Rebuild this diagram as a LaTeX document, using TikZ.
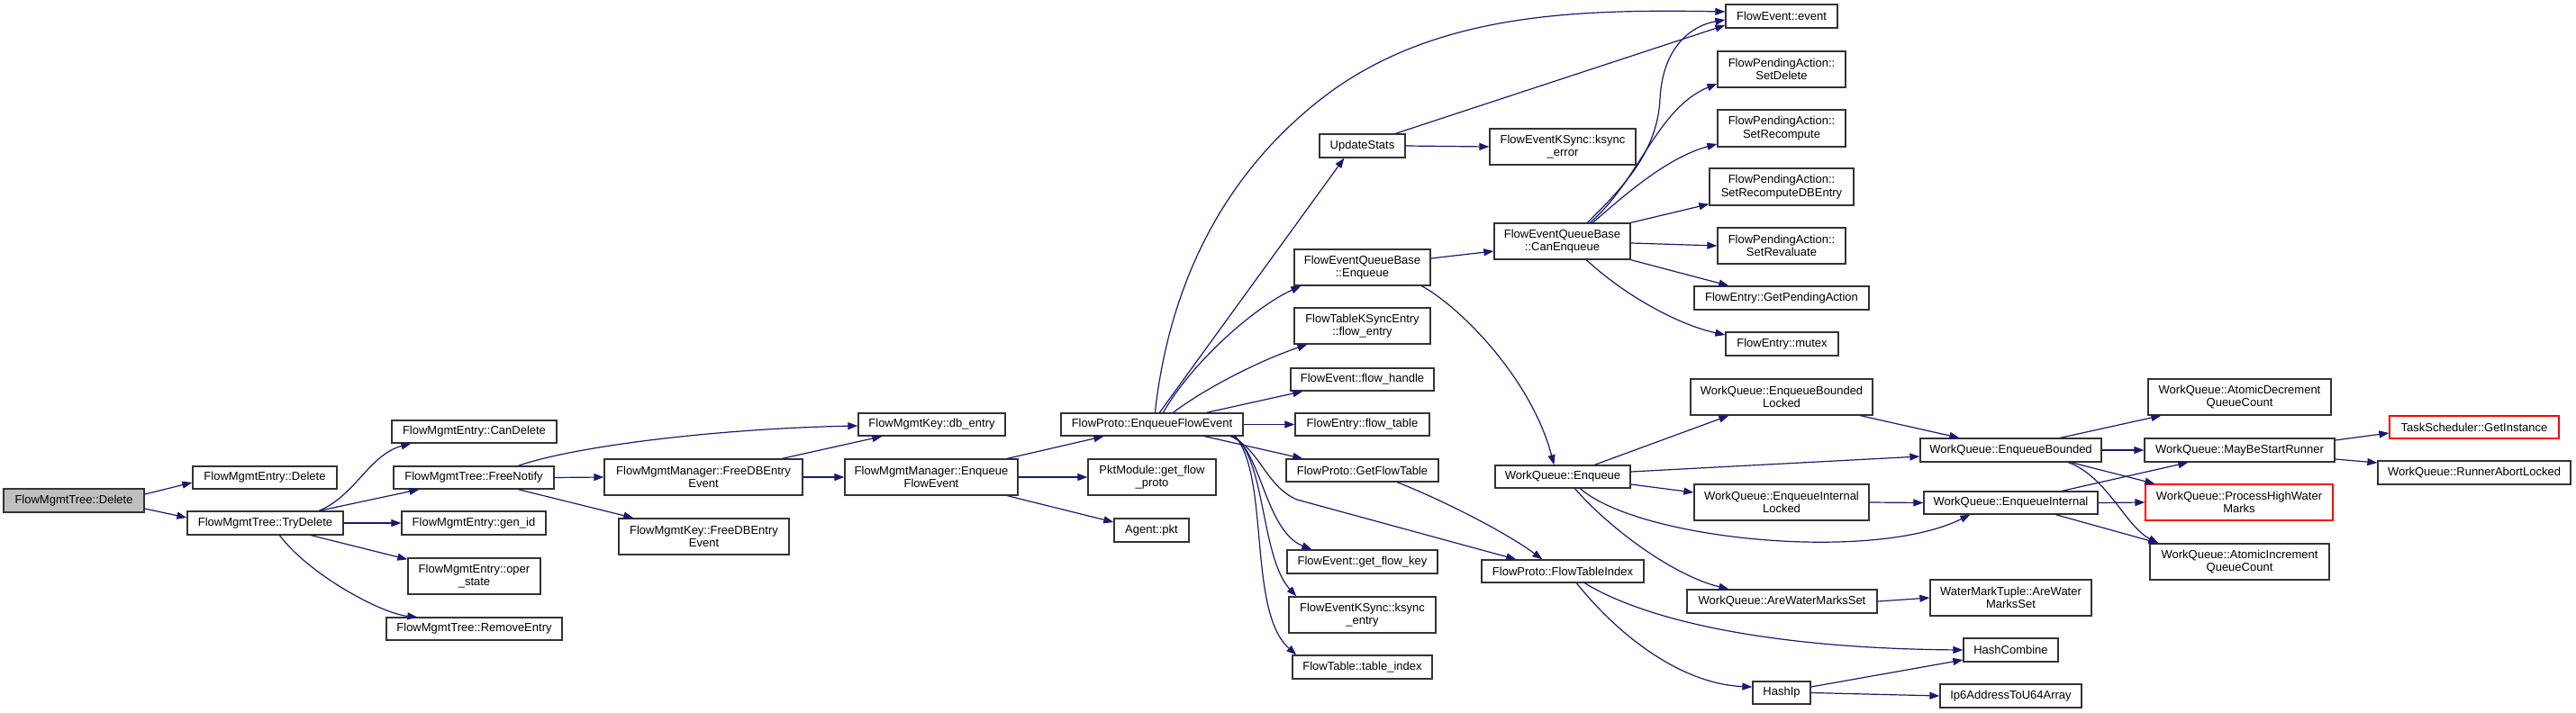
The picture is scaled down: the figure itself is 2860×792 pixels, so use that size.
\documentclass[tikz,border=0pt]{standalone}
\usepackage{fontspec}
\setmainfont{Liberation Sans}
\usetikzlibrary{arrows.meta}
\definecolor{navy}{HTML}{191970}
\definecolor{rootgray}{HTML}{BFBFBF}
\definecolor{boxline}{HTML}{333333}
\tikzset{
  box/.style={draw=boxline, line width=1.3pt, fill=white, inner sep=0pt, align=center,
    font=\fontsize{13}{14.5}\selectfont},
  redbox/.style={box, draw=red},
  arr/.style={draw=navy, line width=1.2pt, -{Triangle[length=11pt,width=8pt]}}
}
\begin{document}
\begin{tikzpicture}[x=1pt,y=-1pt]
\useasboundingbox (0,0) rectangle (2860,792);
% column 1-3
\node[box, fill=rootgray, minimum width=156pt, minimum height=26pt] (root) at (82,556) {FlowMgmtTree::Delete};
\node[box, minimum width=160pt, minimum height=25pt] (fmeDel) at (294,530.5) {FlowMgmtEntry::Delete};
\node[box, minimum width=173pt, minimum height=26pt] (tryDel) at (294.5,581) {FlowMgmtTree::TryDelete};
\node[box, minimum width=183pt, minimum height=25pt] (canDel) at (526.5,479.5) {FlowMgmtEntry::CanDelete};
\node[box, minimum width=178pt, minimum height=25pt] (freeNot) at (526,530.5) {FlowMgmtTree::FreeNotify};
\node[box, minimum width=160pt, minimum height=26pt] (genId) at (526,581) {FlowMgmtEntry::gen\_id};
\node[box, minimum width=147pt, minimum height=40pt] (operState) at (526.5,640) {FlowMgmtEntry::oper\\\_state};
\node[box, minimum width=195pt, minimum height=25pt] (removeEntry) at (526.5,698.5) {FlowMgmtTree::RemoveEntry};
% column 4-6
\node[box, minimum width=163pt, minimum height=25pt] (dbEntry) at (1034.5,471.5) {FlowMgmtKey::db\_entry};
\node[box, minimum width=220pt, minimum height=40pt] (mgrFree) at (781,530) {FlowMgmtManager::FreeDBEntry\\Event};
\node[box, minimum width=189pt, minimum height=40pt] (keyFree) at (781.5,596) {FlowMgmtKey::FreeDBEntry\\Event};
\node[box, minimum width=192pt, minimum height=40pt] (mgrEnq) at (1034,530) {FlowMgmtManager::Enqueue\\FlowEvent};
\node[box, minimum width=202pt, minimum height=25pt] (protoEnq) at (1279,471.5) {FlowProto::EnqueueFlowEvent};
\node[box, minimum width=142pt, minimum height=40pt] (pkt) at (1279,530) {PktModule::get\_flow\\\_proto};
\node[box, minimum width=83pt, minimum height=26pt] (agentPkt) at (1278.5,589) {Agent::pkt};
% column 7
\node[box, minimum width=95pt, minimum height=26pt] (updStats) at (1512.5,162) {UpdateStats};
\node[box, minimum width=151pt, minimum height=40pt] (qbEnq) at (1512.5,297) {FlowEventQueueBase\\::Enqueue};
\node[box, minimum width=151pt, minimum height=40pt] (flowEntry) at (1512.5,362) {FlowTableKSyncEntry\\::flow\_entry};
\node[box, minimum width=159pt, minimum height=25pt] (flowHandle) at (1512.5,421.5) {FlowEvent::flow\_handle};
\node[box, minimum width=149pt, minimum height=25pt] (flowTable) at (1512.5,471.5) {FlowEntry::flow\_table};
\node[box, minimum width=169pt, minimum height=25pt] (getFT) at (1512.5,522.5) {FlowProto::GetFlowTable};
\node[box, minimum width=167pt, minimum height=26pt] (getKey) at (1512.5,624) {FlowEvent::get\_flow\_key};
\node[box, minimum width=163pt, minimum height=40pt] (ksyncEntry) at (1512.5,683) {FlowEventKSync::ksync\\\_entry};
\node[box, minimum width=155pt, minimum height=26pt] (tableIdx) at (1512.5,741) {FlowTable::table\_index};
% column 8
\node[box, minimum width=162pt, minimum height=40pt] (ksyncErr) at (1735,163) {FlowEventKSync::ksync\\\_error};
\node[box, minimum width=151pt, minimum height=40pt] (canEnq) at (1734.5,268) {FlowEventQueueBase\\::CanEnqueue};
\node[box, minimum width=150pt, minimum height=25pt] (wqEnq) at (1735,529.5) {WorkQueue::Enqueue};
\node[box, minimum width=180pt, minimum height=25pt] (ftIdx) at (1735,634.5) {FlowProto::FlowTableIndex};
% column 9
\node[box, minimum width=124pt, minimum height=26pt] (event) at (1978,18) {FlowEvent::event};
\node[box, minimum width=142pt, minimum height=40pt] (setDel) at (1978,77) {FlowPendingAction::\\SetDelete};
\node[box, minimum width=142pt, minimum height=41pt] (setRec) at (1978,142.5) {FlowPendingAction::\\SetRecompute};
\node[box, minimum width=160pt, minimum height=41pt] (setRecDB) at (1978,207.5) {FlowPendingAction::\\SetRecomputeDBEntry};
\node[box, minimum width=142pt, minimum height=40pt] (setReval) at (1978,273) {FlowPendingAction::\\SetRevaluate};
\node[box, minimum width=194pt, minimum height=26pt] (getPA) at (1978,331) {FlowEntry::GetPendingAction};
\node[box, minimum width=125pt, minimum height=26pt] (mutex) at (1978.5,382) {FlowEntry::mutex};
\node[box, minimum width=202pt, minimum height=40pt] (ebLocked) at (1978,441) {WorkQueue::EnqueueBounded\\Locked};
\node[box, minimum width=194pt, minimum height=40pt] (eiLocked) at (1978,558) {WorkQueue::EnqueueInternal\\Locked};
\node[box, minimum width=211pt, minimum height=26pt] (areWM) at (1978.5,668) {WorkQueue::AreWaterMarksSet};
\node[box, minimum width=64pt, minimum height=25pt] (hashIp) at (1978,769.5) {HashIp};
% column 10
\node[box, minimum width=201pt, minimum height=26pt] (eb) at (2232.5,500) {WorkQueue::EnqueueBounded};
\node[box, minimum width=193pt, minimum height=25pt] (ei) at (2232.5,558.5) {WorkQueue::EnqueueInternal};
\node[box, minimum width=179pt, minimum height=40pt] (wmt) at (2232.5,664) {WaterMarkTuple::AreWater\\MarksSet};
\node[box, minimum width=105pt, minimum height=26pt] (hashComb) at (2232.5,722) {HashCombine};
\node[box, minimum width=157pt, minimum height=26pt] (ip6) at (2232.5,773) {Ip6AddressToU64Array};
% column 11
\node[box, minimum width=203pt, minimum height=40pt] (atomDec) at (2486.5,441) {WorkQueue::AtomicDecrement\\QueueCount};
\node[box, minimum width=211pt, minimum height=26pt] (mayBe) at (2486.5,500) {WorkQueue::MayBeStartRunner};
\node[redbox, minimum width=208pt, minimum height=40pt] (phwm) at (2486,558) {WorkQueue::ProcessHighWater\\Marks};
\node[box, minimum width=199pt, minimum height=40pt] (atomInc) at (2486.5,624) {WorkQueue::AtomicIncrement\\QueueCount};
% column 12
\node[redbox, minimum width=188pt, minimum height=25pt] (taskSch) at (2747,474.5) {TaskScheduler::GetInstance};
\node[box, minimum width=214pt, minimum height=26pt] (runner) at (2747,525) {WorkQueue::RunnerAbortLocked};

% edges
\draw[arr] ([yshift=7pt]root.east) -- ([yshift=-5.5pt]fmeDel.west);
\draw[arr] ([yshift=-9pt]root.east) -- ([yshift=6pt]tryDel.west);
\draw[arr] ([xshift=147pt]tryDel.north west) .. controls (395,550) and (410,505) .. ([xshift=22pt]canDel.south west);
\draw[arr] ([xshift=147pt]tryDel.north west) -- ([xshift=29pt]freeNot.south west);
\draw[arr] (tryDel.east) -- (genId.west);
\draw[arr] ([xshift=138pt]tryDel.south west) -- ([yshift=-2pt]operState.north west);
\draw[arr] ([xshift=103pt]tryDel.south west) .. controls (345,640) and (425,682) .. ([xshift=35pt]removeEntry.north west);
\draw[arr] ([xshift=139pt]freeNot.north west) .. controls (640,495) and (800,476) .. ([yshift=-1.5pt]dbEntry.west);
\draw[arr] (freeNot.east) -- (mgrFree.west);
\draw[arr] ([xshift=139pt]freeNot.south west) -- ([xshift=17pt]keyFree.north west);
\draw[arr] ([xshift=198pt]mgrFree.north west) -- ([xshift=27pt]dbEntry.south west);
\draw[arr] (mgrFree.east) -- (mgrEnq.west);
\draw[arr] ([xshift=181pt]mgrEnq.north west) -- ([xshift=48pt]protoEnq.south west);
\draw[arr] (mgrEnq.east) -- (pkt.west);
\draw[arr] ([xshift=181pt]mgrEnq.south west) -- ([yshift=9pt]agentPkt.west);

\draw[arr] ([xshift=105pt]protoEnq.north west) .. controls (1300,300) and (1370,180) .. (1480,100) .. controls (1600,15) and (1750,10) .. ([yshift=5pt]event.west);
\draw[arr] ([xshift=110pt]protoEnq.north west) -- ([xshift=28pt]updStats.south west);
\draw[arr] ([xshift=114pt]protoEnq.north west) .. controls (1325,400) and (1395,340) .. ([xshift=8pt]qbEnq.south west);
\draw[arr] ([xshift=125pt]protoEnq.north west) .. controls (1340,430) and (1400,400) .. ([xshift=15pt]flowEntry.south west);
\draw[arr] ([xshift=162pt]protoEnq.north west) -- ([xshift=14pt]flowHandle.south west);
\draw[arr] (protoEnq.east) -- (flowTable.west);
\draw[arr] ([xshift=160pt]protoEnq.south west) -- ([xshift=19pt]getFT.north west);
\draw[arr] ([xshift=189pt]protoEnq.south west) .. controls (1400,500) and (1405,540) .. (1440,555) -- ([xshift=39pt]ftIdx.north west);
\draw[arr] ([xshift=191pt]protoEnq.south west) .. controls (1400,500) and (1405,590) .. ([xshift=28pt]getKey.north west);
\draw[arr] ([xshift=193pt]protoEnq.south west) .. controls (1405,510) and (1400,620) .. ([xshift=9pt]ksyncEntry.north west);
\draw[arr] ([xshift=194pt]protoEnq.south west) .. controls (1410,530) and (1385,680) .. ([xshift=5pt]tableIdx.north west);

\draw[arr] ([xshift=85pt]updStats.north west) -- ([yshift=-10pt]event.west);
\draw[arr] (updStats.east) -- (ksyncErr.west);

\draw[arr] ([yshift=10pt]qbEnq.east) -- ([yshift=-11pt]canEnq.west);
\draw[arr] ([xshift=142pt]qbEnq.south west) .. controls (1620,340) and (1700,420) .. ([xshift=66pt]wqEnq.north west);

\draw[arr] ([xshift=104pt]canEnq.north west) .. controls (1800,210) and (1840,170) .. (1843,110) .. controls (1846,50) and (1880,28) .. ([yshift=-4pt]event.west);
\draw[arr] ([xshift=107pt]canEnq.north west) .. controls (1820,200) and (1840,120) .. ([yshift=-16pt]setDel.west);
\draw[arr] ([xshift=110pt]canEnq.north west) .. controls (1800,220) and (1850,175) .. ([yshift=-17.5pt]setRec.west);
\draw[arr] (canEnq.north east) -- ([yshift=2pt]setRecDB.south west);
\draw[arr] ([yshift=-2pt]canEnq.east) -- (setReval.west);
\draw[arr] (canEnq.south east) -- ([xshift=39pt]getPA.north west);
\draw[arr] ([xshift=103pt]canEnq.south west) .. controls (1800,325) and (1860,360) .. ([yshift=10pt]mutex.west);

\draw[arr] ([xshift=111pt]wqEnq.north west) -- ([xshift=43pt]ebLocked.south west);
\draw[arr] ([yshift=5.5pt]wqEnq.east) -- ([yshift=-7pt]eb.west);
\draw[arr] ([yshift=-8.5pt]wqEnq.east) -- ([yshift=11pt]eiLocked.west);
\draw[arr] ([xshift=95pt]wqEnq.south west) .. controls (1820,600) and (2080,625) .. ([xshift=52pt]ei.south west);
\draw[arr] ([xshift=89pt]wqEnq.south west) .. controls (1790,590) and (1860,640) .. ([xshift=47pt]areWM.north west);

\draw[arr] ([xshift=124pt]getFT.south west) .. controls (1600,555) and (1670,590) .. ([xshift=68pt]ftIdx.north west);

\draw[arr] ([xshift=115pt]ftIdx.south west) .. controls (1820,685) and (1950,720) .. (hashComb.west);
\draw[arr] ([xshift=106pt]ftIdx.south west) .. controls (1800,710) and (1870,760) .. ([yshift=6.5pt]hashIp.west);
\draw[arr] ([yshift=6.5pt]hashIp.east) -- ([yshift=-11pt]hashComb.west);
\draw[arr] (hashIp.east) -- (ip6.west);

\draw[arr] ([xshift=189pt]ebLocked.south west) -- ([xshift=44pt]eb.north west);
\draw[arr] (eiLocked.east) -- (ei.west);
\draw[arr] (areWM.east) -- (wmt.west);

\draw[arr] ([xshift=156pt]eb.north west) -- ([xshift=15pt]atomDec.south west);
\draw[arr] (eb.east) -- (mayBe.west);
\draw[arr] ([xshift=168pt]eb.south west) -- ([xshift=11pt]phwm.north west);
\draw[arr] ([xshift=165pt]eb.south west) .. controls (2340,530) and (2360,585) .. ([xshift=10pt]atomInc.north west);

\draw[arr] ([xshift=154pt]ei.north west) -- ([xshift=49pt]mayBe.south west);
\draw[arr] (ei.east) -- (phwm.west);
\draw[arr] ([xshift=147pt]ei.south west) -- ([xshift=10pt]atomInc.north west);

\draw[arr] ([yshift=11pt]mayBe.east) -- ([yshift=-6.5pt]taskSch.west);
\draw[arr] ([yshift=-10pt]mayBe.east) -- ([yshift=11pt]runner.west);
\end{tikzpicture}
\end{document}
